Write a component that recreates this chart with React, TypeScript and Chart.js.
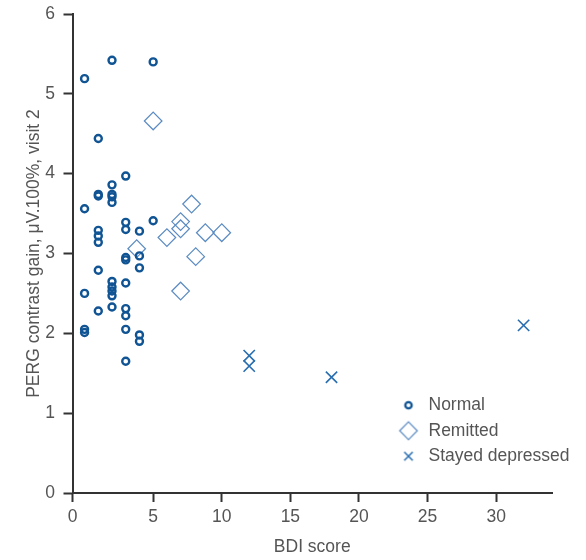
import React, { useEffect, useRef } from 'react';
import { Chart, registerables } from 'chart.js';
import { drawPoint } from 'chart.js/helpers';

Chart.register(...registerables);

// ---- Data ----
const normalBDI = [
  0, 0, 0, 0, 0,
  1, 1, 1, 1, 1, 1, 1, 1,
  2, 2, 2, 2, 2, 2, 2, 2, 2, 2,
  3, 3, 3, 3, 3, 3, 3, 3, 3, 3,
  4, 4, 4, 4, 4,
  5, 5,
];
const normalPERG = [
  5.19, 3.56, 2.50, 2.05, 2.01,
  4.44, 3.74, 3.72, 3.29, 3.22, 3.14, 2.79, 2.28,
  5.42, 3.86, 3.74, 3.71, 3.64, 2.65, 2.58, 2.53, 2.47, 2.33,
  3.97, 3.39, 3.30, 2.95, 2.92, 2.63, 2.31, 2.22, 2.05, 1.65,
  3.28, 2.97, 2.82, 1.98, 1.90,
  5.40, 3.41,
];
const remittedBDI = [5, 7.8, 7, 7, 6, 8.8, 10, 3.8, 8.1, 7];
const remittedPERG = [4.66, 3.62, 3.40, 3.31, 3.20, 3.26, 3.26, 3.06, 2.96, 2.53];
const stayedBDI = [12, 12, 18, 32];
const stayedPERG = [1.72, 1.59, 1.45, 2.10];

const seriesNames = ['Normal', 'Remitted', 'Stayed depressed'];
const xTickValues = [5, 10, 15, 20, 25, 30];
const X_MIN = -0.88;
const X_MAX = 34.07;
const Y_MIN = 0;
const Y_MAX = 6;

const TEXT = '#555555';
const AXIS = '#333333';
const FONT = { family: "'Liberation Sans', Arial, sans-serif", size: 17.5 };

const C_NORMAL = 'rgb(16, 84, 148)';
const C_REMIT = 'rgb(92, 140, 194)';
const C_STAY = 'rgb(40, 110, 176)';

function makeMarker(style: string, radius: number, color: string, width: number) {
  const size = 26;
  const c = document.createElement('canvas');
  c.width = size;
  c.height = size;
  const ctx = c.getContext('2d')!;
  ctx.strokeStyle = color;
  ctx.fillStyle = 'rgba(0,0,0,0)';
  ctx.lineWidth = width;
  drawPoint(ctx, { pointStyle: style, radius, borderWidth: width, rotation: 0 } as any, size / 2, size / 2);
  return c;
}

const legendMover = {
  id: 'legendMover',
  afterLayout(chart: any) {
    const lg = chart.legend;
    if (!lg) return;
    lg.left = 389.25;
    lg.top = 388.5;
    lg.right = lg.left + 190;
    lg.bottom = 560;
    lg.width = 190;
    lg.height = lg.bottom - lg.top;
  },
};

export default function App() {
  const ref = useRef<HTMLCanvasElement | null>(null);

  useEffect(() => {
    if (!ref.current) return;
    const markers = [
      makeMarker('circle', 3.2, C_NORMAL, 2.3),
      makeMarker('rectRot', 8.8, C_REMIT, 1.2),
      makeMarker('crossRot', 6, C_STAY, 1.5),
    ];
    const colors = [C_NORMAL, C_REMIT, C_STAY];

    const chart = new Chart(ref.current, {
      type: 'scatter',
      data: {
        datasets: [
          {
            label: seriesNames[0],
            data: normalBDI.map((x, i) => ({ x, y: normalPERG[i] })),
            pointStyle: 'circle',
            pointRadius: 3.5,
            pointHoverRadius: 3.5,
            pointBorderWidth: 2.4,
            pointBorderColor: C_NORMAL,
            pointBackgroundColor: 'rgba(0,0,0,0)',
          },
          {
            label: seriesNames[1],
            data: remittedBDI.map((x, i) => ({ x, y: remittedPERG[i] })),
            pointStyle: 'rectRot',
            pointRadius: 8.8,
            pointHoverRadius: 8.8,
            pointBorderWidth: 1.2,
            pointBorderColor: C_REMIT,
            pointBackgroundColor: 'rgba(0,0,0,0)',
          },
          {
            label: seriesNames[2],
            data: stayedBDI.map((x, i) => ({ x, y: stayedPERG[i] })),
            pointStyle: 'crossRot',
            pointRadius: 8,
            pointHoverRadius: 8,
            pointBorderWidth: 1.6,
            pointBorderColor: C_STAY,
            pointBackgroundColor: 'rgba(0,0,0,0)',
          },
        ],
      },
      options: {
        animation: false,
        responsive: true,
        maintainAspectRatio: false,
        layout: { padding: { left: 0, top: 14, right: 34, bottom: 0 } },
        plugins: {
          tooltip: { enabled: false },
          legend: {
            display: true,
            position: 'chartArea' as any,
            align: 'start',
            labels: {
              usePointStyle: true,
              pointStyleWidth: 22.5,
              padding: 8,
              color: TEXT,
              font: FONT,
              generateLabels: () =>
                seriesNames.map((name, i) => ({
                  text: name,
                  pointStyle: markers[i] as any,
                  fillStyle: 'rgba(0,0,0,0)',
                  strokeStyle: colors[i],
                  lineWidth: 1,
                  hidden: false,
                  datasetIndex: i,
                  fontColor: TEXT,
                })),
            },
          },
        },
        scales: {
          x: {
            type: 'linear',
            position: 'bottom',
            min: X_MIN,
            max: X_MAX,
            afterBuildTicks: (s: any) => {
              s.ticks = [X_MIN, ...xTickValues].map((v) => ({ value: v }));
            },
            afterFit: (s: any) => {
              s.height = 67;
              s.paddingLeft = 0;
              s.paddingRight = 0;
            },
            ticks: {
              autoSkip: false,
              maxRotation: 0,
              padding: 5,
              color: TEXT,
              font: FONT,
              callback: (v: any) => (v === X_MIN ? '0' : String(v)),
            },
            grid: {
              display: true,
              drawOnChartArea: false,
              drawTicks: true,
              tickLength: 9,
              tickWidth: 2,
              tickColor: AXIS,
            },
            border: { display: true, color: AXIS, width: 2 },
            title: {
              display: true,
              text: 'BDI score',
              color: TEXT,
              font: FONT,
              padding: { top: 0, bottom: 2.5 },
            },
          },
          y: {
            type: 'linear',
            position: 'left',
            min: Y_MIN,
            max: Y_MAX,
            afterFit: (s: any) => {
              s.width = 72.5;
              s.paddingTop = 0;
              s.paddingBottom = 0;
            },
            ticks: {
              stepSize: 1,
              padding: 8.5,
              color: TEXT,
              font: FONT,
            },
            grid: {
              display: true,
              drawOnChartArea: false,
              drawTicks: true,
              tickLength: 9,
              tickWidth: 2,
              tickColor: AXIS,
            },
            border: { display: true, color: AXIS, width: 2 },
            title: {
              display: true,
              text: 'PERG contrast gain, μV.100%, visit 2',
              color: TEXT,
              font: FONT,
              padding: { top: 24, bottom: 0 },
            },
          },
        },
      },
      plugins: [legendMover],
    });
    return () => chart.destroy();
  }, []);

  return (
    <div style={{ position: 'absolute', left: 0, top: 0, width: 586, height: 560 }}>
      <canvas ref={ref} />
    </div>
  );
}
